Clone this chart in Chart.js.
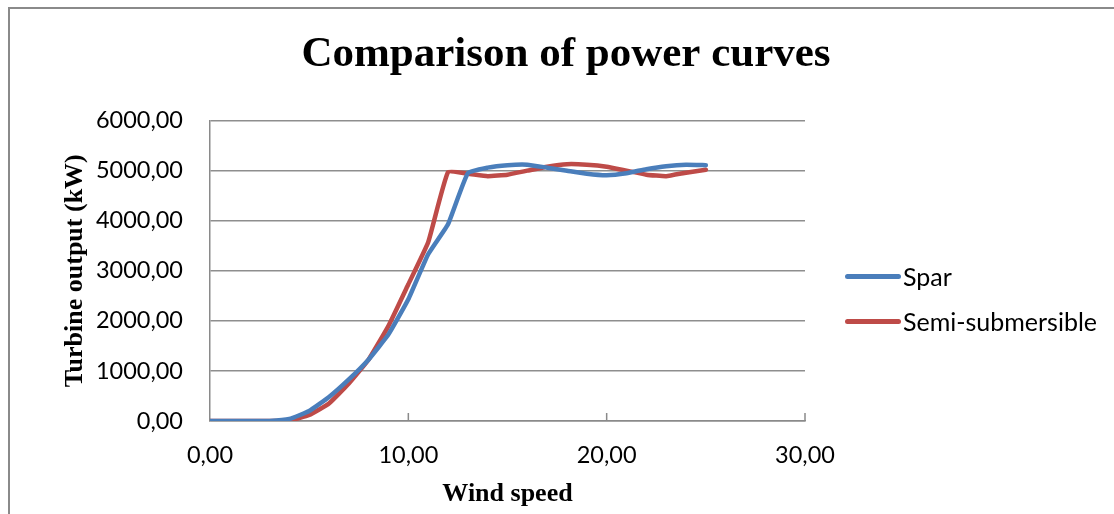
<!DOCTYPE html>
<html>
<head>
<meta charset="utf-8">
<script src="https://cdn.jsdelivr.net/npm/chart.js@4.4.0/dist/chart.umd.min.js"></script>
<style>
  html, body { margin: 0; padding: 0; background: #fff; overflow: hidden; }
  #wrap { position: relative; width: 1114px; height: 514px; }
  #frame {
    position: absolute; left: 8px; top: 7px; width: 1200px; height: 600px;
    border-top: 2px solid #8a8a8a; border-left: 2px solid #8a8a8a;
  }
  #chart { position: absolute; left: 0; top: 0; }
  .legend { position: absolute; left: 845px; font-family: Lato, "Open Sans", sans-serif; font-size: 25px; color: #000; }
  .legend .row { position: absolute; white-space: nowrap; display: flex; align-items: center; }
  .legend .swatch { width: 56px; height: 5px; border-radius: 3px; margin-right: 2px; }
</style>
</head>
<body>
<div id="wrap">
  <div id="frame"></div>
  <canvas id="chart" width="1114" height="514"></canvas>
  <div class="legend">
    <div class="row" style="top:261px"><span class="swatch" style="background:#4a7ebb"></span>Spar</div>
    <div class="row" style="top:306px"><span class="swatch" style="background:#be4b48"></span>Semi-submersible</div>
  </div>
</div>
<script>
// wind speed (x) and turbine output (kW)
var windSpeed = [0, 1, 2, 3, 4, 5, 6, 7, 8, 9, 10, 11, 12, 13, 14, 15, 16, 17, 18, 19, 20, 21, 22, 23, 24, 25]
var spar = [0, 0, 0, 0, 40, 200, 480, 830, 1230, 1730, 2430, 3330, 3930, 4950, 5060, 5110, 5120, 5060, 5000, 4940, 4910, 4950, 5030, 5090, 5120, 5110]
var semiSub = [0, 0, 0, 0, 10, 120, 350, 750, 1230, 1900, 2730, 3570, 4970, 4940, 4890, 4920, 5000, 5080, 5130, 5120, 5080, 5000, 4920, 4890, 4960, 5020]
var xTicks = [0, 10, 20, 30]
var yTicks = [0, 1000, 2000, 3000, 4000, 5000, 6000]

let toPoints = function (ys) {
    return windSpeed.map(function (x, i) { return { x: x, y: ys[i] } })
}

let fmt = function (v) {
    return Number(v).toFixed(2).replace('.', ',')
}

let serif = '"Liberation Serif", "Times New Roman", serif'
let sans = 'Lato, "Open Sans", sans-serif'

// small tick marks pointing up from the x axis, like the original
let innerTicks = {
    id: 'innerTicks',
    afterDatasetsDraw: function (chart) {
        let ctx = chart.ctx
        let xs = chart.scales.x
        let bottom = chart.chartArea.bottom
        ctx.save()
        ctx.strokeStyle = '#8a8a8a'
        ctx.lineWidth = 1.5
        xTicks.forEach(function (t) {
            if (t === 0) return
            let px = xs.getPixelForValue(t)
            ctx.beginPath()
            ctx.moveTo(px, bottom)
            ctx.lineTo(px, bottom - 8)
            ctx.stroke()
        })
        ctx.restore()
    }
}

var cnx = document.getElementById('chart')
var chart = new Chart(cnx, {
    type: 'line',
    data: {
        datasets: [
            {
                label: 'Spar',
                data: toPoints(spar),
                borderColor: '#4a7ebb',
                backgroundColor: '#4a7ebb',
                borderWidth: 4.5,
                pointRadius: 0,
                tension: 0.12,
                borderCapStyle: 'round',
                fill: false
            },
            {
                label: 'Semi-submersible',
                data: toPoints(semiSub),
                borderColor: '#be4b48',
                backgroundColor: '#be4b48',
                borderWidth: 4.5,
                pointRadius: 0,
                tension: 0.12,
                borderCapStyle: 'round',
                fill: false
            }
        ]
    },
    options: {
        responsive: false,
        animation: false,
        layout: { padding: { left: 60, right: 42, top: 0, bottom: 0 } },
        plugins: {
            legend: { display: false },
            tooltip: { enabled: false },
            title: {
                display: true,
                text: 'Comparison of power curves',
                color: '#000',
                font: { family: serif, size: 43, weight: 'bold', lineHeight: 1.2 },
                padding: { top: 29, bottom: 40 }
            }
        },
        scales: {
            x: {
                type: 'linear',
                min: 0,
                max: 30,
                afterBuildTicks: function (axis) {
                    axis.ticks = xTicks.map(function (v) { return { value: v } })
                },
                afterFit: function (axis) { axis.height = 93 },
                grid: { display: true, drawOnChartArea: false, drawTicks: false },
                border: { display: true, color: '#8a8a8a', width: 1.5 },
                ticks: {
                    padding: 20,
                    color: '#000',
                    maxRotation: 0,
                    font: { family: sans, size: 23.5 },
                    callback: fmt
                },
                title: {
                    display: true,
                    text: 'Wind speed',
                    color: '#000',
                    font: { family: serif, size: 26, weight: 'bold', lineHeight: 1.2 },
                    padding: { top: 0, bottom: 4 }
                }
            },
            y: {
                min: 0,
                max: 6000,
                afterBuildTicks: function (axis) {
                    axis.ticks = yTicks.map(function (v) { return { value: v } })
                },
                afterFit: function (axis) { axis.width = 150 },
                grid: { color: '#8e8e8e', lineWidth: 1.5, drawTicks: false },
                border: { display: true, color: '#8a8a8a', width: 1.5 },
                ticks: {
                    padding: 27,
                    color: '#000',
                    font: { family: sans, size: 23.5 },
                    callback: fmt
                },
                title: {
                    display: true,
                    text: 'Turbine output (kW)',
                    color: '#000',
                    font: { family: serif, size: 26, weight: 'bold', lineHeight: 1.2 },
                    padding: { top: 0, bottom: 0 }
                }
            },
            // empty axis on the right that keeps room for the legend
            spacer: {
                type: 'linear',
                position: 'right',
                display: true,
                afterFit: function (axis) { axis.width = 267 },
                grid: { display: false },
                border: { display: false },
                ticks: { display: false }
            }
        }
    },
    plugins: [innerTicks]
})
</script>
</body>
</html>
